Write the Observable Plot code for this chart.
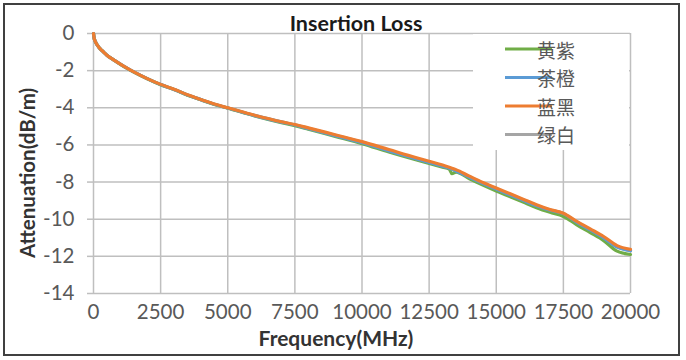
<!DOCTYPE html>
<html><head><meta charset="utf-8">
<script src="https://cdn.jsdelivr.net/npm/d3@7"></script>
<script src="https://cdn.jsdelivr.net/npm/@observablehq/plot@0.6"></script>
<style>body{margin:0;background:#fff} #chart{width:686px;height:360px}</style>
</head><body><div id="chart"></div>
<script>
const frequencies = [0,25,50,100,175,250,375,500,750,1000,1250,1500,2000,2500,3000,3500,4000,4500,5000,6000,7000,7500,8000,9000,10000,11000,12000,12500,13000,13250,13350,13500,14000,14500,15000,15500,16000,16500,17000,17500,18000,18500,19000,19500,20000];
const seriesNames = ["黄紫","茶橙","蓝黑","绿白"];
const seriesColors = ["#70AD47","#5B9BD5","#ED7D31","#A5A5A5"];
const yellowPurple = [0,-0.26,-0.37,-0.52,-0.69,-0.83,-1.0,-1.17,-1.42,-1.66,-1.88,-2.08,-2.44,-2.76,-3.02,-3.32,-3.57,-3.82,-4.02,-4.44,-4.8,-4.96,-5.15,-5.54,-5.93,-6.38,-6.8,-7.0,-7.2,-7.3,-7.55,-7.46,-7.82,-8.16,-8.48,-8.78,-9.08,-9.38,-9.63,-9.85,-10.3,-10.72,-11.15,-11.72,-11.9];
const teaOrange = [0,-0.26,-0.37,-0.52,-0.69,-0.83,-1.0,-1.17,-1.42,-1.65,-1.87,-2.07,-2.43,-2.75,-3.01,-3.31,-3.56,-3.81,-4.01,-4.42,-4.77,-4.93,-5.12,-5.5,-5.88,-6.32,-6.74,-6.94,-7.14,-7.26,-7.3,-7.4,-7.74,-8.08,-8.38,-8.68,-8.98,-9.28,-9.52,-9.7,-10.17,-10.58,-11.0,-11.5,-11.7];
const blueBlack = [0,-0.26,-0.37,-0.52,-0.69,-0.83,-1.0,-1.17,-1.42,-1.65,-1.87,-2.07,-2.43,-2.74,-3.0,-3.3,-3.55,-3.8,-4.0,-4.4,-4.75,-4.9,-5.08,-5.45,-5.82,-6.25,-6.68,-6.88,-7.08,-7.2,-7.25,-7.33,-7.68,-8.02,-8.32,-8.62,-8.92,-9.22,-9.48,-9.68,-10.12,-10.52,-10.93,-11.42,-11.62];
const greenWhite = [0,-0.26,-0.37,-0.52,-0.69,-0.83,-1.0,-1.17,-1.42,-1.65,-1.87,-2.07,-2.43,-2.75,-3.01,-3.31,-3.56,-3.81,-4.01,-4.41,-4.76,-4.92,-5.1,-5.48,-5.85,-6.3,-6.72,-6.92,-7.12,-7.24,-7.28,-7.37,-7.72,-8.06,-8.36,-8.66,-8.96,-9.26,-9.5,-9.7,-10.15,-10.56,-10.98,-11.48,-11.68];
const xTicks = [0,2500,5000,7500,10000,12500,15000,17500,20000];
const yTicks = [0,-2,-4,-6,-8,-10,-12,-14];

const valuesBySeries = [yellowPurple, teaOrange, blueBlack, greenWhite];
const drawOrder = [3,0,1,2];
const rows = [];
drawOrder.forEach(i => frequencies.forEach((f,j) => rows.push({series: seriesNames[i], f, v: valuesBySeries[i][j]})));

const plot = Plot.plot({
  width: 686, height: 360,
  marginLeft: 93, marginRight: 56, marginTop: 33, marginBottom: 67,
  style: {fontFamily: "Lato, 'Open Sans', sans-serif", background: "white"},
  x: {domain: [0, 20000]},
  y: {domain: [-14, 0]},
  color: {domain: seriesNames, range: seriesColors},
  marks: [
    Plot.gridX(xTicks, {stroke: "#BFBFBF", strokeOpacity: 1, strokeWidth: 1.5}),
    Plot.gridY(yTicks, {stroke: "#BFBFBF", strokeOpacity: 1, strokeWidth: 1.5}),
    Plot.axisY(yTicks, {tickSize: 6, tickPadding: 13, stroke: "#BFBFBF", strokeWidth: 1.5, fill: "#595959", fontSize: 20.5, tickFormat: d => String(d), label: null}),
    Plot.axisX(xTicks, {tickSize: 0, tickPadding: 11, fill: "#595959", fontSize: 20.5, tickFormat: d => String(d), label: null}),
    Plot.line(rows, {x: "f", y: "v", z: "series", stroke: "series", strokeWidth: 3.2, curve: "monotone-x"})
  ]
});
document.getElementById("chart").appendChild(plot);

const svg = d3.select(plot);
// legend background
svg.append("rect").attr("x", 473).attr("y", 34).attr("width", 156).attr("height", 116).attr("fill", "white");
const lg = svg.append("g");
const legendYs = [49, 77.5, 106, 134.5];
seriesNames.forEach((name, i) => {
  lg.append("line").attr("x1", 505).attr("x2", 552).attr("y1", legendYs[i]).attr("y2", legendYs[i])
    .attr("stroke", seriesColors[i]).attr("stroke-width", 2.8);
  lg.append("text").attr("x", 556).attr("y", legendYs[i]).attr("dominant-baseline", "central")
    .attr("font-family", "'Noto Sans CJK SC', sans-serif").attr("font-size", 19).attr("fill", "#595959").text(name);
});
// title and axis labels
svg.append("text").attr("x", 356).attr("y", 31).attr("text-anchor", "middle")
  .attr("font-family", "Lato, sans-serif").attr("font-weight", "bold").attr("font-size", 21.5).attr("fill", "#1a1a1a")
  .text("Insertion Loss");
svg.append("text").attr("transform", "translate(27,173) rotate(-90)").attr("text-anchor", "middle").attr("dominant-baseline", "central")
  .attr("font-family", "Lato, sans-serif").attr("font-weight", "bold").attr("font-size", 20.5).attr("fill", "#333")
  .text("Attenuation(dB/m)");
svg.append("text").attr("x", 336).attr("y", 346).attr("text-anchor", "middle")
  .attr("font-family", "Lato, sans-serif").attr("font-weight", "bold").attr("font-size", 21).attr("fill", "#333")
  .text("Frequency(MHz)");
// outer border
svg.append("rect").attr("x", 4).attr("y", 4).attr("width", 675).attr("height", 351)
  .attr("fill", "none").attr("stroke", "#404040").attr("stroke-width", 2);
</script>
</body></html>
